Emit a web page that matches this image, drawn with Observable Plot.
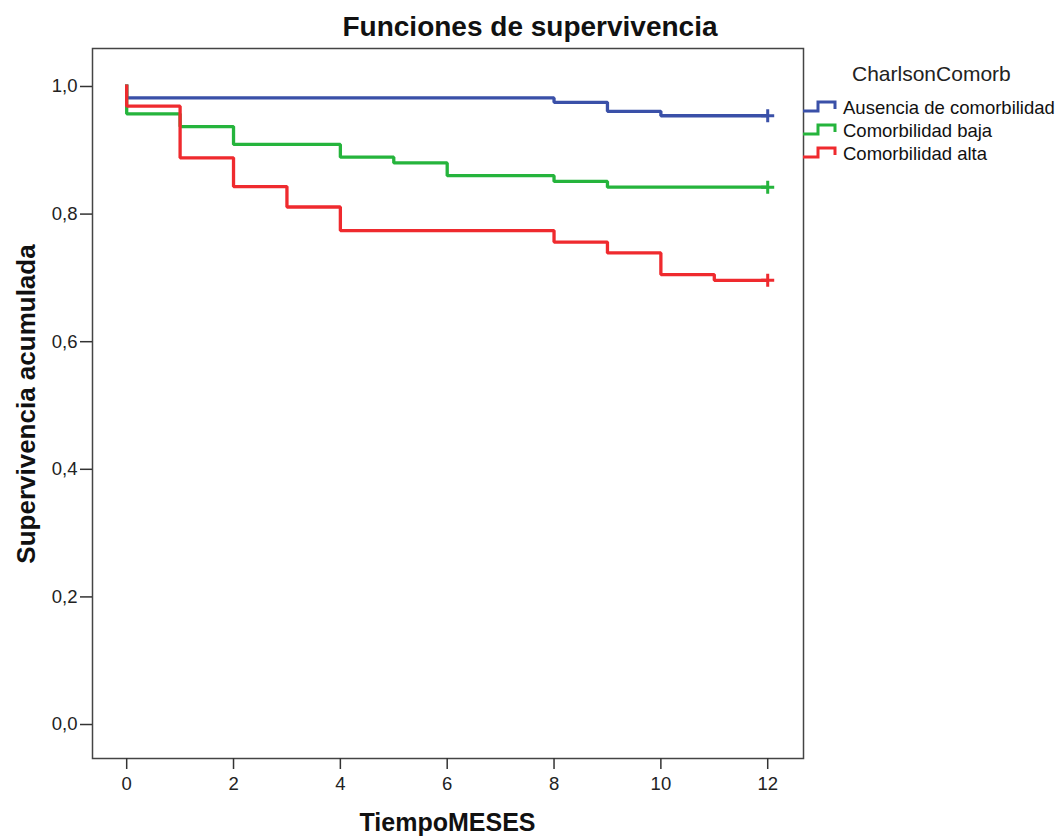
<!DOCTYPE html>
<html>
<head>
<meta charset="utf-8">
<script src="https://cdn.jsdelivr.net/npm/d3@7"></script>
<script src="https://cdn.jsdelivr.net/npm/@observablehq/plot@0.6"></script>
<style>
  body { margin: 0; background: #fff; font-family: "Liberation Sans", Arial, sans-serif; }
  #chart { position: relative; width: 1060px; height: 837px; }
  #title {
    box-sizing: border-box; height: 47px; padding-top: 13px; line-height: 1;
    font-size: 28px; font-weight: bold; text-align: center; color: #111;
  }
  #legend { position: absolute; left: 800px; top: 47px; }
  #chart g[aria-label$="tick label"] { font-size: 18.5px !important; }
</style>
</head>
<body>
<div id="chart">
  <div id="title">Funciones de supervivencia</div>
</div>
<script>
// Kaplan–Meier cumulative survival by Charlson comorbidity group (months 0–12)
const groups = ["Ausencia de comorbilidad", "Comorbilidad baja", "Comorbilidad alta"];
const colors = ["#3a50a8", "#25b43c", "#ef2a2e"];

const mesesAusencia = [0, 0, 8, 9, 10, 12];
const survAusencia  = [1.000, 0.979, 0.972, 0.958, 0.951, 0.951];

const mesesBaja = [0, 0, 1, 2, 4, 5, 6, 8, 9, 12];
const survBaja  = [1.000, 0.954, 0.934, 0.906, 0.886, 0.877, 0.857, 0.848, 0.839, 0.839];

const mesesAlta = [0, 0, 1, 2, 3, 4, 8, 9, 10, 11, 12];
const survAlta  = [1.000, 0.966, 0.885, 0.840, 0.808, 0.771, 0.753, 0.736, 0.702, 0.693, 0.693];

const xTicks = [0, 2, 4, 6, 8, 10, 12];
const yTicks = [0, 0.2, 0.4, 0.6, 0.8, 1.0];

// long table built from the arrays above
const series = [
  [groups[0], mesesAusencia, survAusencia],
  [groups[1], mesesBaja, survBaja],
  [groups[2], mesesAlta, survAlta]
];
const rows = series.flatMap(([g, t, s]) => t.map((m, i) => ({grupo: g, meses: m, surv: s[i]})));
// censored observations at the end of follow-up
const censored = series.map(([g, t, s]) => ({grupo: g, meses: t[t.length - 1], surv: s[s.length - 1]}));

// "+" censor marker drawn as strokes
const plusSymbol = {
  draw(ctx, size) {
    const r = Math.sqrt(size / Math.PI);
    ctx.moveTo(-r, 0); ctx.lineTo(r, 0);
    ctx.moveTo(0, -r); ctx.lineTo(0, r);
  }
};

const comma = d => d.toFixed(1).replace(".", ",");

const plot = Plot.plot({
  width: 1060,
  height: 790,
  marginTop: 1,
  marginBottom: 79,
  marginLeft: 92,
  marginRight: 257,
  style: { fontFamily: "'Liberation Sans', Arial, sans-serif", fontSize: "18.5px", color: "#222", background: "#fff" },
  x: { domain: [-0.64, 12.67] },
  y: { domain: [-0.0564, 1.0564] },
  color: { domain: groups, range: colors },
  marks: [
    Plot.frame({ stroke: "#444", strokeWidth: 1.5 }),
    Plot.axisY({ ticks: yTicks, tickFormat: comma, tickSize: 12, tickPadding: 3, dy: 2, fontSize: 18.5, label: null, stroke: "#333", strokeWidth: 1.5 }),
    Plot.axisX({ ticks: xTicks, tickSize: 11, tickPadding: 7, fontSize: 18.5, label: null, stroke: "#333", strokeWidth: 1.5 }),
    Plot.line(rows, { x: "meses", y: "surv", z: "grupo", stroke: "grupo", curve: "step-after", strokeWidth: 3.3, strokeLinejoin: "miter", strokeLinecap: "butt" }),
    Plot.dot(censored, { x: "meses", y: "surv", stroke: "grupo", fill: "none", symbol: plusSymbol, r: 6.5, strokeWidth: 3 })
  ]
});

const svg = d3.select(plot);
svg.append("text")
  .attr("x", (92 + 803) / 2).attr("y", 784)
  .attr("text-anchor", "middle")
  .attr("font-size", 25).attr("font-weight", "bold").attr("fill", "#111")
  .text("TiempoMESES");
svg.append("text")
  .attr("transform", "translate(35,357) rotate(-90)")
  .attr("text-anchor", "middle")
  .attr("font-size", 26).attr("font-weight", "bold").attr("fill", "#111")
  .text("Supervivencia acumulada");

document.getElementById("chart").appendChild(plot);

// legend: group title plus a step icon for each curve
const legend = d3.select("#chart").append("svg")
  .attr("id", "legend")
  .attr("width", 260).attr("height", 130)
  .style("font-family", "'Liberation Sans', Arial, sans-serif");
legend.append("text")
  .attr("x", 52).attr("y", 34)
  .attr("font-size", 21).attr("fill", "#222")
  .text("CharlsonComorb");
groups.forEach((g, i) => {
  const b = 67 + i * 23;
  legend.append("path")
    .attr("d", `M3,${b - 3}H18V${b - 12}H35V${b - 5}`)
    .attr("fill", "none").attr("stroke", colors[i]).attr("stroke-width", 3);
  legend.append("text")
    .attr("x", 43).attr("y", b)
    .attr("font-size", 18.5).attr("fill", "#111")
    .text(g);
});
</script>
</body>
</html>
